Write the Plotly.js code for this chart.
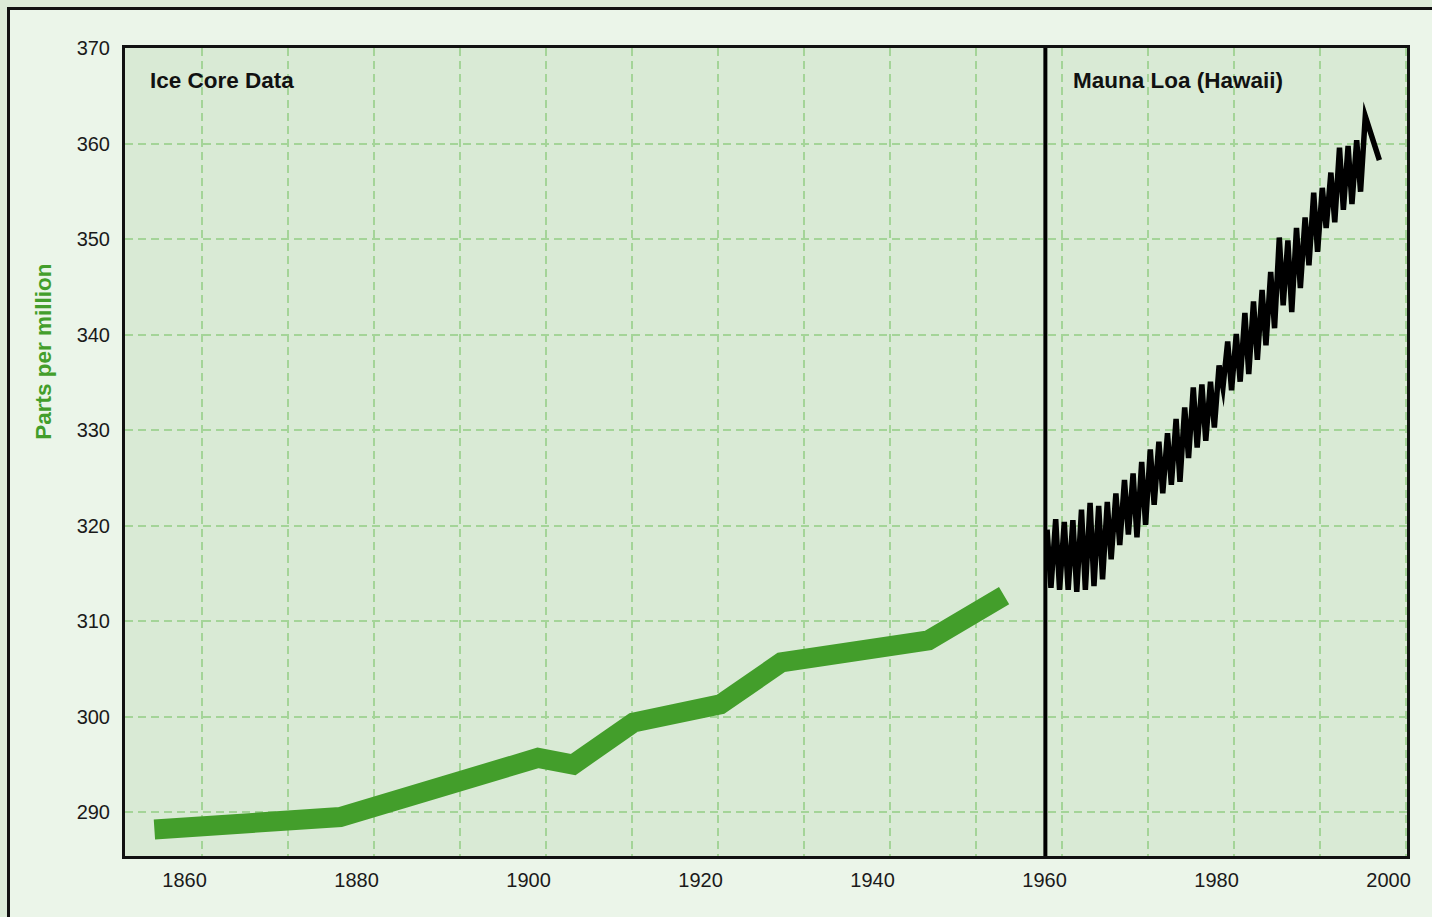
<!DOCTYPE html>
<html>
<head>
<meta charset="utf-8">
<script src="https://cdn.plot.ly/plotly-3.0.1.min.js"></script>
<style>
  html, body { margin:0; padding:0; overflow:hidden; background:#dcebd8; }
  #frame { position:absolute; left:7px; top:7px; width:1440px; height:930px;
           border-left:3px solid #111; border-top:3px solid #111; background:#ebf5e9; }
  #chart { position:absolute; left:0; top:0; width:1432px; height:917px; }
  #chart .scatterlayer path.js-line { stroke-linejoin: miter !important; stroke-miterlimit: 8 !important; }
</style>
</head>
<body>
<div id="frame"></div>
<div id="chart"></div>
<script>
// Ice core record (year, ppm)
const iceYears = [1856.5, 1878.1, 1901.1, 1905.2, 1912.2, 1919.6, 1922.3, 1929.4, 1938.2, 1946.5, 1955.3];
const icePpm   = [288.2, 289.5, 295.7, 295.0, 299.4, 300.9, 301.3, 305.7, 306.9, 308.0, 312.7];

// Mauna Loa record: seasonal highs and lows (year, ppm)
const maunaYears = [
  1960.3, 1960.75, 1961.3, 1961.75, 1962.3, 1962.75, 1963.3, 1963.75, 1964.3, 1964.75,
  1965.3, 1965.75, 1966.3, 1966.75, 1967.3, 1967.75, 1968.3, 1968.75, 1969.3, 1969.75,
  1970.3, 1970.75, 1971.3, 1971.75, 1972.3, 1972.75, 1973.3, 1973.75, 1974.3, 1974.75,
  1975.3, 1975.75, 1976.3, 1976.75, 1977.3, 1977.75, 1978.3, 1978.75, 1979.3, 1979.75,
  1980.3, 1980.75, 1981.3, 1981.75, 1982.3, 1982.75, 1983.3, 1983.75, 1984.3, 1984.75,
  1985.3, 1985.75, 1986.3, 1986.75, 1987.3, 1987.75, 1988.3, 1988.75, 1989.3, 1989.75,
  1990.3, 1990.75, 1991.3, 1991.75, 1992.3, 1992.75, 1993.3, 1993.75, 1994.3, 1994.75,
  1995.3, 1995.75, 1996.3, 1996.75, 1997.3, 1998.94
];
const maunaPpm = [
  319.6, 313.5, 320.7, 313.3, 320.4, 313.3, 320.6, 313.1, 321.7, 313.3,
  322.4, 313.7, 322.1, 314.4, 322.5, 316.5, 323.4, 318.0, 324.8, 319.1,
  325.5, 318.8, 326.7, 320.1, 328.0, 322.2, 328.8, 323.4, 329.7, 324.3,
  331.2, 324.6, 332.4, 327.1, 334.5, 328.2, 334.8, 328.9, 335.1, 330.3,
  336.8, 334.5, 339.3, 334.2, 340.1, 335.1, 342.3, 335.9, 343.5, 337.4,
  344.7, 338.9, 346.6, 340.7, 350.2, 343.1, 349.9, 342.4, 351.2, 344.9,
  352.3, 347.3, 354.9, 348.7, 355.4, 351.2, 357.0, 351.8, 359.6, 353.1,
  359.8, 353.7, 360.4, 355.0, 362.9, 358.3
];

const xTickVals = [1860, 1880, 1900, 1920, 1940, 1960, 1980, 2000];
const yTickVals = [290, 300, 310, 320, 330, 340, 350, 360, 370];
const panelLabels = ['Ice Core Data', 'Mauna Loa (Hawaii)'];
const yTitle = 'Parts per million';
const dividerYear = 1960.1;

const FONT = 'Liberation Sans, Arial, Helvetica, sans-serif';
const GRID = '#a4d498';

const traces = [
  { x: iceYears, y: icePpm, type: 'scatter', mode: 'lines',
    line: { color: '#439e2b', width: 20 }, hoverinfo: 'x+y', showlegend: false },
  { x: maunaYears, y: maunaPpm, type: 'scatter', mode: 'lines',
    line: { color: '#000000', width: 5.5 }, hoverinfo: 'x+y', showlegend: false }
];

const layout = {
  width: 1432, height: 917,
  paper_bgcolor: 'rgba(0,0,0,0)',
  plot_bgcolor: '#d9ead5',
  margin: { l: 125, r: 25, t: 48, b: 60.5 },
  font: { family: FONT, size: 20, color: '#1a1a1a' },
  showlegend: false,
  xaxis: {
    range: [1853.08, 2002.15],
    tickmode: 'array', tickvals: xTickVals,
    ticks: '', ticklabelstandoff: 4,
    showgrid: false, zeroline: false,
    showline: true, mirror: true, linecolor: '#111', linewidth: 3,
    tickfont: { family: FONT, size: 20, color: '#1a1a1a' },
    minor: { tickmode: 'linear', tick0: 1862, dtick: 10, showgrid: true,
             gridcolor: GRID, gridwidth: 2, griddash: '8px,5px', ticks: '' }
  },
  yaxis: {
    range: [285.42, 370.05],
    tickmode: 'array', tickvals: yTickVals,
    ticks: '', ticklabelstandoff: 8,
    showgrid: true, gridcolor: GRID, gridwidth: 2, griddash: '8px,5px',
    zeroline: false,
    showline: true, mirror: true, linecolor: '#111', linewidth: 3,
    tickfont: { family: FONT, size: 20, color: '#1a1a1a' }
  },
  shapes: [
    { type: 'line', xref: 'x', yref: 'paper', x0: dividerYear, x1: dividerYear, y0: 0, y1: 1,
      line: { color: '#000', width: 4 }, layer: 'above' }
  ],
  annotations: [
    { text: '<b>' + panelLabels[0] + '</b>', xref: 'paper', yref: 'paper', x: 0.0177, y: 0.9592,
      xanchor: 'left', yanchor: 'middle', showarrow: false,
      font: { family: FONT, size: 22.5, color: '#111' } },
    { text: '<b>' + panelLabels[1] + '</b>', xref: 'paper', yref: 'paper', x: 0.7379, y: 0.9592,
      xanchor: 'left', yanchor: 'middle', showarrow: false,
      font: { family: FONT, size: 22.5, color: '#111' } },
    { text: '<b>' + yTitle + '</b>', xref: 'paper', yref: 'paper', x: -0.0632, y: 0.6241,
      xanchor: 'center', yanchor: 'middle', textangle: -90, showarrow: false,
      font: { family: FONT, size: 22.5, color: '#439e2b' } }
  ]
};

Plotly.newPlot('chart', traces, layout, { staticPlot: true, displayModeBar: false });
</script>
</body>
</html>
